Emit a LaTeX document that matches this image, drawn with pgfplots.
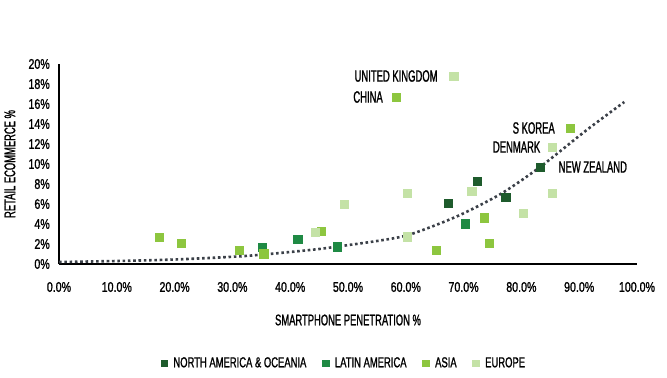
\documentclass[border=0pt]{standalone}
\usepackage{pgfplots}
\pgfplotsset{compat=1.18}
\usepackage{fontspec}
\setmainfont{Liberation Sans}[FakeStretch=0.76, FakeBold=1.2]
\newfontfamily\annfont{Liberation Sans}[FakeStretch=0.58, FakeBold=1.2]
\newfontfamily\labfont{Liberation Sans}[FakeStretch=0.61, FakeBold=1.2]
\newfontfamily\legfont{Liberation Sans}[FakeStretch=0.655, FakeBold=1.2]
\definecolor{cNA}{HTML}{1E5B2C}
\definecolor{cLA}{HTML}{1F8A44}
\definecolor{cAS}{HTML}{8DC63F}
\definecolor{cEU}{HTML}{C4E2A6}
\definecolor{ctrend}{HTML}{3B4048}
\begin{document}
\begin{tikzpicture}
\path (-59bp,-114bp) rectangle (608bp,264bp);
\begin{axis}[
  at={(0,0)}, anchor=south west,
  scale only axis, width=578bp, height=200bp,
  xmin=0, xmax=100, ymin=0, ymax=20,
  clip=false,
  axis x line*=bottom, axis y line*=left,
  axis line style={line width=2.4bp, -},
  major tick length=0pt,
  xtick={0,10,...,100},
  xticklabels={0.0\%,10.0\%,20.0\%,30.0\%,40.0\%,50.0\%,60.0\%,70.0\%,80.0\%,90.0\%,100.0\%},
  ytick={0,2,...,20},
  yticklabels={0\%,2\%,4\%,6\%,8\%,10\%,12\%,14\%,16\%,18\%,20\%},
  /pgf/number format/assume math mode=true,
  tick label style={font=\fontsize{14bp}{14bp}\selectfont},
  xticklabel style={anchor=center, yshift=-23bp},
  yticklabel style={anchor=east, inner sep=0pt, xshift=-9bp},
  xlabel={SMARTPHONE PENETRATION \%},
  ylabel={RETAIL ECOMMERCE \%},
  label style={font=\labfont\fontsize{15.4bp}{15.4bp}\selectfont},
  xlabel style={at={(axis description cs:0.5,-0.28)}, anchor=center},
  ylabel style={at={(axis description cs:-0.085,0.5)}, anchor=center},
  legend style={at={(axis description cs:0.493,-0.495)}, anchor=center,
    draw=none, fill=none, font=\legfont\fontsize{14.4bp}{14.4bp}\selectfont,
    /tikz/every odd column/.append style={column sep=4bp},
    /tikz/every even column/.append style={column sep=14bp}},
  legend columns=4,
  legend image code/.code={\draw[#1, only marks, mark size=3.3bp] plot coordinates {(0bp,0bp)};},
]
\addplot[forget plot, color=ctrend, line width=2.6bp, dash pattern=on 2.6bp off 2.7bp, smooth] coordinates {
(0,0.2) (10,0.3) (20,0.45) (30,0.72) (35,0.93) (40,1.2) (45,1.5) (48,1.73) (55,2.3) (60,2.83) (65,3.85) (70,5.07) (76.6,7.07) (83.3,9.73) (91.3,13.4) (97.8,16.2)};
\addplot[only marks, color=cNA, mark=square*, mark size=4.1bp, mark options={draw=none, fill=cNA}] coordinates {
(67.4,6.07) (72.3,8.3) (77.3,6.7) (83.3,9.7)};
\addlegendentry{NORTH AMERICA \& OCEANIA}
\addplot[only marks, color=cLA, mark=square*, mark size=4.1bp, mark options={draw=none, fill=cLA}] coordinates {
(35.2,1.67) (41.3,2.47) (48.2,1.73) (70.3,4.03)};
\addlegendentry{LATIN AMERICA}
\addplot[only marks, color=cAS, mark=square*, mark size=4.1bp, mark options={draw=none, fill=cAS}] coordinates {
(17.3,2.67) (21.2,2.1) (31.2,1.4) (35.4,1.03) (45.3,3.3) (58.3,16.7) (65.3,1.4) (73.6,4.63) (74.4,2.07) (88.4,13.6)};
\addlegendentry{ASIA}
\addplot[only marks, color=cEU, mark=square*, mark size=4.1bp, mark options={draw=none, fill=cEU}] coordinates {
(44.3,3.2) (49.4,6.0) (60.3,7.1) (60.3,2.73) (68.3,18.8) (71.4,7.3) (80.3,5.07) (85.3,7.1) (85.3,11.7)};
\addlegendentry{EUROPE}
\begin{scope}[every node/.style={font=\annfont\fontsize{16.3bp}{16.3bp}\selectfont, inner sep=0pt}]
\node[anchor=east, xshift=-16bp] at (axis cs:68.3,18.8) {UNITED KINGDOM};
\node[anchor=east, xshift=-13bp] at (axis cs:58.3,16.7) {CHINA};
\node[anchor=east, xshift=-15bp] at (axis cs:88.4,13.6) {S KOREA};
\node[anchor=east, xshift=-11.6bp] at (axis cs:85.3,11.7) {DENMARK};
\node[anchor=west, xshift=18bp] at (axis cs:83.3,9.7) {NEW ZEALAND};
\end{scope}
\end{axis}
\end{tikzpicture}
\end{document}
